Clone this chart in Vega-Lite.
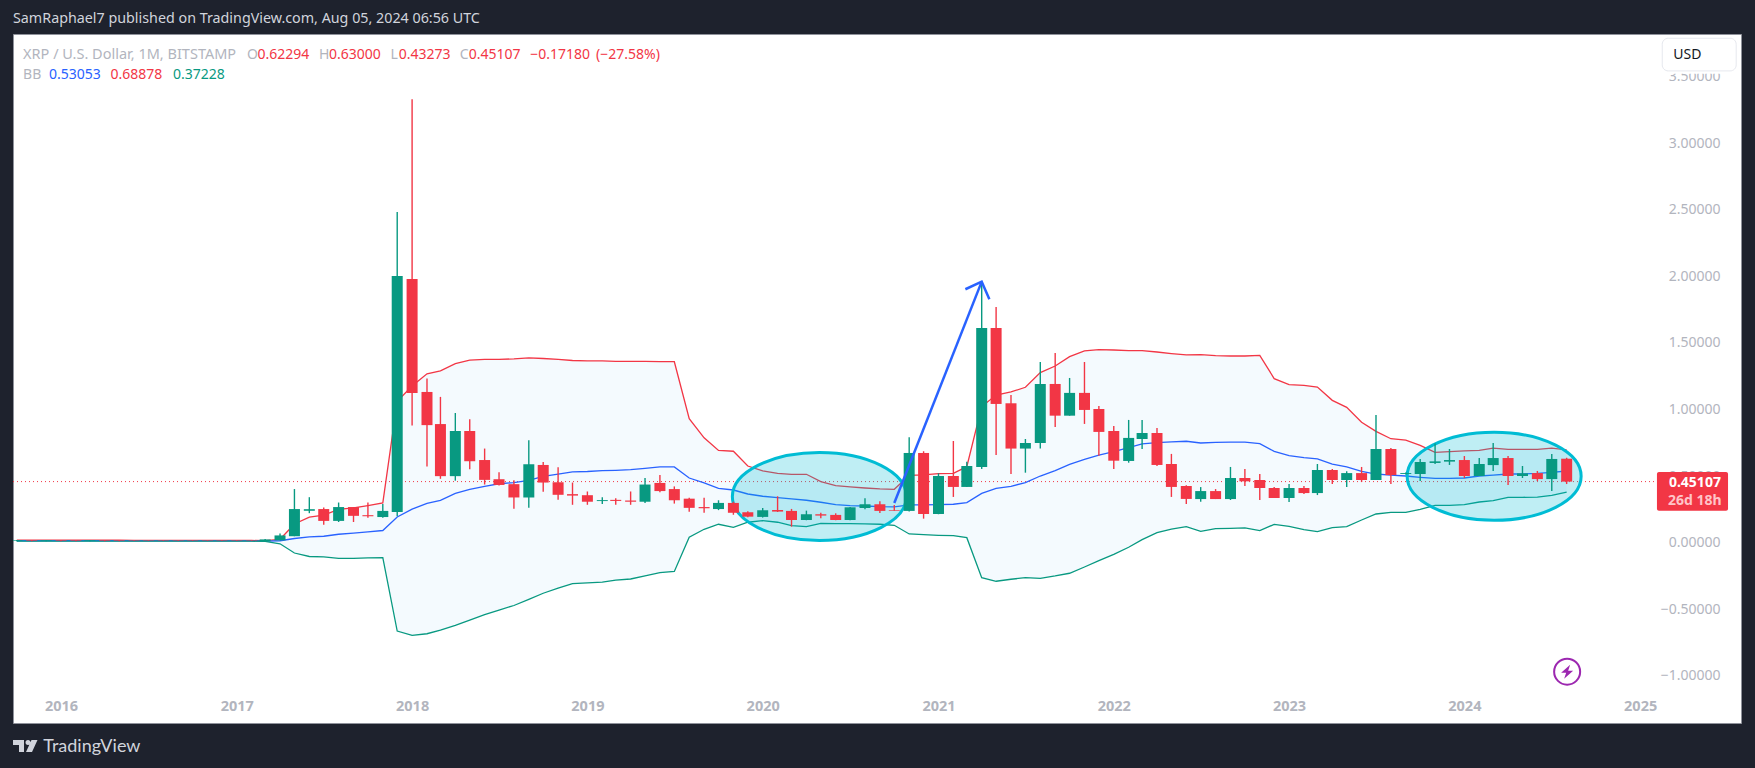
{"$schema":"https://vega.github.io/schema/vega-lite/v6.json","width":1728,"height":689,"autosize":"none","padding":{"left":13,"top":34,"right":14,"bottom":45},"background":"#1e222d","config":{"view":{"fill":"#ffffff","stroke":"#8f929b","strokeWidth":1},"font":"Noto Sans"},"title":{"text":"SamRaphael7 published on TradingView.com, Aug 05, 2024 06:56 UTC","anchor":"start","frame":"group","offset":8,"fontSize":14.3,"fontWeight":"normal","font":"Noto Sans","color":"#d1d4dc"},"datasets":{"bars":[
{"d":"2015-10-01","o":0.005,"h":0.012,"l":0.004,"c":0.010,"u":0.012,"m":0.007,"b":0.004},
{"d":"2015-11-01","o":0.010,"h":0.012,"l":0.004,"c":0.005,"u":0.012,"m":0.007,"b":0.004},
{"d":"2015-12-01","o":0.005,"h":0.012,"l":0.004,"c":0.010,"u":0.012,"m":0.007,"b":0.004},
{"d":"2016-01-01","o":0.010,"h":0.012,"l":0.004,"c":0.005,"u":0.012,"m":0.007,"b":0.004},
{"d":"2016-02-01","o":0.010,"h":0.012,"l":0.004,"c":0.005,"u":0.012,"m":0.007,"b":0.004},
{"d":"2016-03-01","o":0.005,"h":0.012,"l":0.004,"c":0.010,"u":0.012,"m":0.007,"b":0.004},
{"d":"2016-04-01","o":0.010,"h":0.012,"l":0.004,"c":0.005,"u":0.012,"m":0.007,"b":0.004},
{"d":"2016-05-01","o":0.010,"h":0.012,"l":0.004,"c":0.005,"u":0.011,"m":0.007,"b":0.004},
{"d":"2016-06-01","o":0.009,"h":0.010,"l":0.005,"c":0.006,"u":0.009,"m":0.006,"b":0.004},
{"d":"2016-07-01","o":0.009,"h":0.010,"l":0.005,"c":0.006,"u":0.009,"m":0.006,"b":0.004},
{"d":"2016-08-01","o":0.009,"h":0.010,"l":0.005,"c":0.006,"u":0.009,"m":0.006,"b":0.004},
{"d":"2016-09-01","o":0.009,"h":0.010,"l":0.005,"c":0.006,"u":0.009,"m":0.006,"b":0.004},
{"d":"2016-10-01","o":0.009,"h":0.010,"l":0.005,"c":0.006,"u":0.009,"m":0.006,"b":0.004},
{"d":"2016-11-01","o":0.009,"h":0.010,"l":0.005,"c":0.006,"u":0.009,"m":0.006,"b":0.004},
{"d":"2016-12-01","o":0.009,"h":0.010,"l":0.005,"c":0.006,"u":0.009,"m":0.006,"b":0.004},
{"d":"2017-01-01","o":0.009,"h":0.010,"l":0.005,"c":0.006,"u":0.009,"m":0.006,"b":0.004},
{"d":"2017-02-01","o":0.009,"h":0.010,"l":0.005,"c":0.006,"u":0.009,"m":0.006,"b":0.004},
{"d":"2017-03-01","o":0.003,"h":0.020,"l":0.003,"c":0.017,"u":0.008,"m":0.005,"b":0.002},
{"d":"2017-04-01","o":0.010,"h":0.061,"l":0.010,"c":0.047,"u":0.018,"m":0.007,"b":-0.016},
{"d":"2017-05-01","o":0.041,"h":0.395,"l":0.041,"c":0.245,"u":0.133,"m":0.024,"b":-0.085},
{"d":"2017-06-01","o":0.232,"h":0.334,"l":0.214,"c":0.244,"u":0.185,"m":0.036,"b":-0.111},
{"d":"2017-07-01","o":0.245,"h":0.257,"l":0.127,"c":0.156,"u":0.199,"m":0.041,"b":-0.114},
{"d":"2017-08-01","o":0.156,"h":0.294,"l":0.148,"c":0.260,"u":0.242,"m":0.056,"b":-0.125},
{"d":"2017-09-01","o":0.260,"h":0.260,"l":0.148,"c":0.194,"u":0.254,"m":0.064,"b":-0.125},
{"d":"2017-10-01","o":0.199,"h":0.294,"l":0.179,"c":0.191,"u":0.271,"m":0.073,"b":-0.122},
{"d":"2017-11-01","o":0.185,"h":0.283,"l":0.179,"c":0.231,"u":0.291,"m":0.084,"b":-0.120},
{"d":"2017-12-01","o":0.222,"h":2.475,"l":0.191,"c":1.995,"u":1.053,"m":0.185,"b":-0.671},
{"d":"2018-01-01","o":1.972,"h":3.322,"l":0.872,"c":1.116,"u":1.168,"m":0.245,"b":-0.703},
{"d":"2018-02-01","o":1.124,"h":1.225,"l":0.564,"c":0.875,"u":1.260,"m":0.288,"b":-0.691},
{"d":"2018-03-01","o":0.883,"h":1.087,"l":0.472,"c":0.492,"u":1.283,"m":0.311,"b":-0.663},
{"d":"2018-04-01","o":0.492,"h":0.966,"l":0.458,"c":0.831,"u":1.337,"m":0.363,"b":-0.628},
{"d":"2018-05-01","o":0.831,"h":0.920,"l":0.544,"c":0.604,"u":1.363,"m":0.392,"b":-0.588},
{"d":"2018-06-01","o":0.613,"h":0.699,"l":0.429,"c":0.464,"u":1.369,"m":0.415,"b":-0.548},
{"d":"2018-07-01","o":0.469,"h":0.521,"l":0.421,"c":0.426,"u":1.369,"m":0.435,"b":-0.513},
{"d":"2018-08-01","o":0.432,"h":0.461,"l":0.248,"c":0.332,"u":1.372,"m":0.444,"b":-0.479},
{"d":"2018-09-01","o":0.332,"h":0.762,"l":0.254,"c":0.582,"u":1.380,"m":0.461,"b":-0.433},
{"d":"2018-10-01","o":0.576,"h":0.599,"l":0.375,"c":0.444,"u":1.375,"m":0.490,"b":-0.387},
{"d":"2018-11-01","o":0.446,"h":0.558,"l":0.314,"c":0.352,"u":1.369,"m":0.507,"b":-0.349},
{"d":"2018-12-01","o":0.357,"h":0.444,"l":0.277,"c":0.346,"u":1.360,"m":0.524,"b":-0.315},
{"d":"2019-01-01","o":0.349,"h":0.377,"l":0.277,"c":0.300,"u":1.357,"m":0.527,"b":-0.309},
{"d":"2019-02-01","o":0.305,"h":0.334,"l":0.283,"c":0.312,"u":1.357,"m":0.533,"b":-0.303},
{"d":"2019-03-01","o":0.314,"h":0.326,"l":0.277,"c":0.306,"u":1.354,"m":0.536,"b":-0.289},
{"d":"2019-04-01","o":0.309,"h":0.377,"l":0.277,"c":0.300,"u":1.354,"m":0.541,"b":-0.280},
{"d":"2019-05-01","o":0.300,"h":0.478,"l":0.291,"c":0.429,"u":1.353,"m":0.550,"b":-0.257},
{"d":"2019-06-01","o":0.441,"h":0.501,"l":0.372,"c":0.380,"u":1.351,"m":0.561,"b":-0.232},
{"d":"2019-07-01","o":0.395,"h":0.415,"l":0.286,"c":0.311,"u":1.351,"m":0.561,"b":-0.223},
{"d":"2019-08-01","o":0.323,"h":0.329,"l":0.225,"c":0.254,"u":0.923,"m":0.478,"b":0.033},
{"d":"2019-09-01","o":0.260,"h":0.329,"l":0.217,"c":0.251,"u":0.780,"m":0.441,"b":0.093},
{"d":"2019-10-01","o":0.245,"h":0.311,"l":0.237,"c":0.291,"u":0.685,"m":0.401,"b":0.131},
{"d":"2019-11-01","o":0.291,"h":0.300,"l":0.202,"c":0.217,"u":0.679,"m":0.388,"b":0.108},
{"d":"2019-12-01","o":0.221,"h":0.228,"l":0.183,"c":0.188,"u":0.568,"m":0.358,"b":0.146},
{"d":"2020-01-01","o":0.186,"h":0.253,"l":0.181,"c":0.236,"u":0.531,"m":0.341,"b":0.158},
{"d":"2020-02-01","o":0.238,"h":0.341,"l":0.223,"c":0.226,"u":0.513,"m":0.331,"b":0.146},
{"d":"2020-03-01","o":0.231,"h":0.246,"l":0.113,"c":0.163,"u":0.506,"m":0.321,"b":0.121},
{"d":"2020-04-01","o":0.163,"h":0.233,"l":0.161,"c":0.206,"u":0.506,"m":0.311,"b":0.113},
{"d":"2020-05-01","o":0.206,"h":0.218,"l":0.176,"c":0.196,"u":0.451,"m":0.296,"b":0.138},
{"d":"2020-06-01","o":0.201,"h":0.213,"l":0.161,"c":0.163,"u":0.421,"m":0.278,"b":0.136},
{"d":"2020-07-01","o":0.163,"h":0.261,"l":0.161,"c":0.258,"u":0.411,"m":0.271,"b":0.136},
{"d":"2020-08-01","o":0.253,"h":0.326,"l":0.243,"c":0.281,"u":0.403,"m":0.268,"b":0.133},
{"d":"2020-09-01","o":0.281,"h":0.303,"l":0.216,"c":0.231,"u":0.396,"m":0.263,"b":0.131},
{"d":"2020-10-01","o":0.238,"h":0.276,"l":0.233,"c":0.233,"u":0.393,"m":0.261,"b":0.123},
{"d":"2020-11-01","o":0.231,"h":0.784,"l":0.226,"c":0.666,"u":0.498,"m":0.276,"b":0.058},
{"d":"2020-12-01","o":0.666,"h":0.679,"l":0.173,"c":0.208,"u":0.501,"m":0.276,"b":0.053},
{"d":"2021-01-01","o":0.208,"h":0.513,"l":0.206,"c":0.493,"u":0.511,"m":0.278,"b":0.048},
{"d":"2021-02-01","o":0.493,"h":0.756,"l":0.336,"c":0.411,"u":0.513,"m":0.281,"b":0.045},
{"d":"2021-03-01","o":0.411,"h":0.601,"l":0.411,"c":0.568,"u":0.563,"m":0.293,"b":0.030},
{"d":"2021-04-01","o":0.561,"h":1.950,"l":0.546,"c":1.604,"u":1.014,"m":0.363,"b":-0.270},
{"d":"2021-05-01","o":1.604,"h":1.762,"l":0.651,"c":1.034,"u":1.101,"m":0.401,"b":-0.297},
{"d":"2021-06-01","o":1.039,"h":1.101,"l":0.508,"c":0.699,"u":1.124,"m":0.416,"b":-0.282},
{"d":"2021-07-01","o":0.699,"h":0.771,"l":0.518,"c":0.741,"u":1.159,"m":0.443,"b":-0.270},
{"d":"2021-08-01","o":0.741,"h":1.349,"l":0.699,"c":1.184,"u":1.269,"m":0.493,"b":-0.275},
{"d":"2021-09-01","o":1.184,"h":1.417,"l":0.861,"c":0.946,"u":1.319,"m":0.533,"b":-0.257},
{"d":"2021-10-01","o":0.946,"h":1.229,"l":0.946,"c":1.117,"u":1.389,"m":0.581,"b":-0.237},
{"d":"2021-11-01","o":1.117,"h":1.349,"l":0.884,"c":0.989,"u":1.432,"m":0.618,"b":-0.190},
{"d":"2021-12-01","o":0.996,"h":1.019,"l":0.646,"c":0.824,"u":1.442,"m":0.649,"b":-0.142},
{"d":"2022-01-01","o":0.831,"h":0.869,"l":0.546,"c":0.608,"u":1.439,"m":0.676,"b":-0.095},
{"d":"2022-02-01","o":0.606,"h":0.914,"l":0.593,"c":0.779,"u":1.434,"m":0.706,"b":-0.042},
{"d":"2022-03-01","o":0.771,"h":0.914,"l":0.696,"c":0.816,"u":1.434,"m":0.734,"b":0.015},
{"d":"2022-04-01","o":0.816,"h":0.854,"l":0.569,"c":0.576,"u":1.424,"m":0.744,"b":0.068},
{"d":"2022-05-01","o":0.583,"h":0.659,"l":0.336,"c":0.411,"u":1.412,"m":0.749,"b":0.095},
{"d":"2022-06-01","o":0.418,"h":0.423,"l":0.283,"c":0.321,"u":1.402,"m":0.754,"b":0.113},
{"d":"2022-07-01","o":0.320,"h":0.410,"l":0.300,"c":0.380,"u":1.404,"m":0.741,"b":0.078},
{"d":"2022-08-01","o":0.380,"h":0.395,"l":0.320,"c":0.320,"u":1.396,"m":0.746,"b":0.098},
{"d":"2022-09-01","o":0.320,"h":0.561,"l":0.313,"c":0.478,"u":1.394,"m":0.748,"b":0.100},
{"d":"2022-10-01","o":0.478,"h":0.546,"l":0.418,"c":0.453,"u":1.394,"m":0.748,"b":0.103},
{"d":"2022-11-01","o":0.463,"h":0.508,"l":0.313,"c":0.403,"u":1.399,"m":0.736,"b":0.083},
{"d":"2022-12-01","o":0.403,"h":0.410,"l":0.328,"c":0.328,"u":1.224,"m":0.678,"b":0.130},
{"d":"2023-01-01","o":0.328,"h":0.433,"l":0.298,"c":0.403,"u":1.179,"m":0.646,"b":0.115},
{"d":"2023-02-01","o":0.403,"h":0.418,"l":0.358,"c":0.365,"u":1.174,"m":0.631,"b":0.090},
{"d":"2023-03-01","o":0.365,"h":0.583,"l":0.350,"c":0.538,"u":1.161,"m":0.621,"b":0.075},
{"d":"2023-04-01","o":0.538,"h":0.546,"l":0.433,"c":0.463,"u":1.061,"m":0.583,"b":0.105},
{"d":"2023-05-01","o":0.463,"h":0.528,"l":0.410,"c":0.515,"u":1.008,"m":0.561,"b":0.113},
{"d":"2023-06-01","o":0.515,"h":0.561,"l":0.448,"c":0.463,"u":0.896,"m":0.528,"b":0.163},
{"d":"2023-07-01","o":0.463,"h":0.951,"l":0.463,"c":0.696,"u":0.828,"m":0.508,"b":0.208},
{"d":"2023-08-01","o":0.696,"h":0.703,"l":0.433,"c":0.500,"u":0.773,"m":0.500,"b":0.220},
{"d":"2023-09-01","o":0.508,"h":0.520,"l":0.505,"c":0.515,"u":0.763,"m":0.493,"b":0.220},
{"d":"2023-10-01","o":0.508,"h":0.621,"l":0.455,"c":0.598,"u":0.723,"m":0.483,"b":0.243},
{"d":"2023-11-01","o":0.591,"h":0.738,"l":0.583,"c":0.603,"u":0.671,"m":0.475,"b":0.273},
{"d":"2023-12-01","o":0.601,"h":0.696,"l":0.576,"c":0.613,"u":0.676,"m":0.475,"b":0.273},
{"d":"2024-01-01","o":0.613,"h":0.643,"l":0.478,"c":0.493,"u":0.681,"m":0.478,"b":0.278},
{"d":"2024-02-01","o":0.493,"h":0.628,"l":0.493,"c":0.583,"u":0.686,"m":0.493,"b":0.298},
{"d":"2024-03-01","o":0.575,"h":0.741,"l":0.531,"c":0.628,"u":0.703,"m":0.500,"b":0.308},
{"d":"2024-04-01","o":0.628,"h":0.643,"l":0.425,"c":0.493,"u":0.693,"m":0.508,"b":0.333},
{"d":"2024-05-01","o":0.493,"h":0.568,"l":0.478,"c":0.513,"u":0.693,"m":0.508,"b":0.333},
{"d":"2024-06-01","o":0.515,"h":0.531,"l":0.455,"c":0.470,"u":0.693,"m":0.513,"b":0.335},
{"d":"2024-07-01","o":0.470,"h":0.658,"l":0.380,"c":0.621,"u":0.703,"m":0.521,"b":0.348},
{"d":"2024-08-01","o":0.62294,"h":0.63,"l":0.43273,"c":0.45107,"u":0.68878,"m":0.53053,"b":0.37228}
],"legend":[
{"d":"2017-01-22","p":3.657,"t":"O","r":"label"},
{"d":"2017-02-13","p":3.657,"t":"0.62294","r":"red"},
{"d":"2017-06-21","p":3.657,"t":"H","r":"label"},
{"d":"2017-07-12","p":3.657,"t":"0.63000","r":"red"},
{"d":"2017-11-17","p":3.657,"t":"L","r":"label"},
{"d":"2017-12-04","p":3.657,"t":"0.43273","r":"red"},
{"d":"2018-04-10","p":3.657,"t":"C","r":"label"},
{"d":"2018-04-29","p":3.657,"t":"0.45107","r":"red"},
{"d":"2018-09-04","p":3.657,"t":"−0.17180","r":"red"},
{"d":"2019-01-19","p":3.657,"t":"(−27.58%)","r":"red"},
{"d":"2015-10-14","p":3.5,"t":"BB","r":"label"},
{"d":"2015-12-07","p":3.5,"t":"0.53053","r":"blue"},
{"d":"2016-04-13","p":3.5,"t":"0.68878","r":"red"},
{"d":"2016-08-21","p":3.5,"t":"0.37228","r":"green"}
]},"layer":[
{"data":{"name":"bars"},"mark":{"type":"area","color":"#2196f3","opacity":0.05,"clip":true},"encoding":{"x":{"field":"d","type":"temporal","title":null,"scale":{"type":"utc","domain":["2015-09-23","2025-07-30"],"nice":false,"padding":0},"axis":{"orient":"bottom","domain":false,"ticks":false,"tickSize":0,"grid":false,"format":"%Y","formatType":"utc","tickCount":"year","labelBaseline":"middle","labelPadding":-17,"labelFont":"Noto Sans","labelFontSize":14.5,"labelFontWeight":"bold","labelColor":"#b2b5be","labelFlush":false,"labelOverlap":false,"labelBound":false}},"y":{"field":"b","type":"quantitative","title":null,"scale":{"domain":[-1.361,3.811],"nice":false,"zero":false},"axis":{"orient":"right","domain":false,"ticks":false,"tickSize":0,"grid":false,"values":[-1,-0.5,0,0.5,1,1.5,2,2.5,3,3.5],"format":".5f","labelAlign":"right","labelBaseline":"middle","labelPadding":-21,"labelOffset":1,"labelFont":"Noto Sans","labelFontSize":14,"labelColor":"#b2b5be","labelOverlap":false,"labelBound":false,"labelFlush":false}},"y2":{"field":"u"}}},
{"data":{"values":[{"d":"2015-09-23","d2":"2025-02-05","p":0.45107}]},"mark":{"type":"rule","color":"#f23645","strokeDash":[1,3],"strokeWidth":1},"encoding":{"x":{"field":"d","type":"temporal"},"x2":{"field":"d2"},"y":{"field":"p","type":"quantitative"}}},
{"data":{"name":"bars"},"mark":{"type":"line","color":"#f23645","strokeWidth":1.3,"clip":true},"encoding":{"x":{"field":"d","type":"temporal"},"y":{"field":"u","type":"quantitative"}}},
{"data":{"name":"bars"},"mark":{"type":"line","color":"#2962ff","strokeWidth":1.3,"clip":true},"encoding":{"x":{"field":"d","type":"temporal"},"y":{"field":"m","type":"quantitative"}}},
{"data":{"name":"bars"},"mark":{"type":"line","color":"#089981","strokeWidth":1.3,"clip":true},"encoding":{"x":{"field":"d","type":"temporal"},"y":{"field":"b","type":"quantitative"}}},
{"data":{"values":[{"d":"2020-04-28","p":0.339},{"d":"2024-03-03","p":0.491}]},"mark":{"type":"point","shape":"M-87,0 C-87,-24.3 -48,-44 0,-44 C48,-44 87,-24.3 87,0 C87,24.3 48,44 0,44 C-48,44 -87,24.3 -87,0 Z","size":4,"filled":true,"fill":"#00bcd4","fillOpacity":0.25,"stroke":"#00bcd4","strokeOpacity":1,"strokeWidth":3,"opacity":1},"encoding":{"x":{"field":"d","type":"temporal"},"y":{"field":"p","type":"quantitative"}}},
{"data":{"name":"bars"},"mark":{"type":"rule","strokeWidth":1.4,"clip":true},"encoding":{"x":{"field":"d","type":"temporal"},"y":{"field":"l","type":"quantitative"},"y2":{"field":"h"},"color":{"condition":{"test":"datum.c>=datum.o","value":"#089981"},"value":"#f23645"}}},
{"data":{"name":"bars"},"mark":{"type":"bar","size":11,"clip":true},"encoding":{"x":{"field":"d","type":"temporal"},"y":{"field":"o","type":"quantitative"},"y2":{"field":"c"},"color":{"condition":{"test":"datum.c>=datum.o","value":"#089981"},"value":"#f23645"}}},
{"data":{"values":[{"d":"2020-10-01","p":0.29,"s":"shaft","k":1},{"d":"2021-04-01","p":1.952,"s":"shaft","k":2},{"d":"2021-02-26","p":1.895,"s":"head","k":1},{"d":"2021-04-01","p":1.952,"s":"head","k":2},{"d":"2021-04-17","p":1.82,"s":"head","k":3}]},"mark":{"type":"line","color":"#2962ff","strokeWidth":2.5},"encoding":{"x":{"field":"d","type":"temporal"},"y":{"field":"p","type":"quantitative"},"detail":{"field":"s"},"order":{"field":"k"}}},
{"data":{"values":[{"d":"2015-10-14","p":3.657,"t":"XRP / U.S. Dollar, 1M, BITSTAMP"}]},"mark":{"type":"text","align":"left","baseline":"middle","fontSize":14.5,"font":"Noto Sans","color":"#b2b5be"},"encoding":{"x":{"field":"d","type":"temporal"},"y":{"field":"p","type":"quantitative"},"text":{"field":"t"}}},
{"data":{"name":"legend"},"mark":{"type":"text","align":"left","baseline":"middle","fontSize":14,"font":"Noto Sans"},"encoding":{"x":{"field":"d","type":"temporal"},"y":{"field":"p","type":"quantitative"},"text":{"field":"t"},"color":{"field":"r","type":"nominal","legend":null,"scale":{"domain":["label","red","blue","green"],"range":["#b2b5be","#f23645","#2962ff","#089981"]}}}},
{"data":{"values":[{"d":"2025-02-05","d2":"2025-07-03","p":0.523,"p2":0.233}]},"mark":{"type":"rect","color":"#f23645","cornerRadius":2},"encoding":{"x":{"field":"d","type":"temporal"},"x2":{"field":"d2"},"y":{"field":"p","type":"quantitative"},"y2":{"field":"p2"}}},
{"data":{"values":[{"d":"2025-04-25","p":0.443,"t":"0.45107"}]},"mark":{"type":"text","align":"center","baseline":"middle","fontSize":14,"fontWeight":"bold","color":"#ffffff","font":"Noto Sans"},"encoding":{"x":{"field":"d","type":"temporal"},"y":{"field":"p","type":"quantitative"},"text":{"field":"t"}}},
{"data":{"values":[{"d":"2025-04-25","p":0.308,"t":"26d 18h"}]},"mark":{"type":"text","align":"center","baseline":"middle","fontSize":14,"fontWeight":"bold","color":"#ffc4c8","font":"Noto Sans"},"encoding":{"x":{"field":"d","type":"temporal"},"y":{"field":"p","type":"quantitative"},"text":{"field":"t"}}},
{"data":{"values":[{"d":"2025-02-16","d2":"2025-07-20","p":3.58,"p2":3.512}]},"mark":{"type":"rect","fill":"#ffffff"},"encoding":{"x":{"field":"d","type":"temporal"},"x2":{"field":"d2"},"y":{"field":"p","type":"quantitative"},"y2":{"field":"p2"}}},
{"data":{"values":[{"d":"2025-02-16","d2":"2025-07-20","p":3.779,"p2":3.534}]},"mark":{"type":"rect","fill":"#ffffff","stroke":"#e6e8ee","strokeWidth":1,"cornerRadius":6},"encoding":{"x":{"field":"d","type":"temporal"},"x2":{"field":"d2"},"y":{"field":"p","type":"quantitative"},"y2":{"field":"p2"}}},
{"data":{"values":[{"d":"2025-03-11","p":3.656,"t":"USD"}]},"mark":{"type":"text","align":"left","baseline":"middle","fontSize":14,"color":"#131722","font":"Noto Sans"},"encoding":{"x":{"field":"d","type":"temporal"},"y":{"field":"p","type":"quantitative"},"text":{"field":"t"}}},
{"data":{"values":[{"d":"2024-08-02","p":-0.976}]},"mark":{"type":"point","shape":"circle","size":676,"filled":false,"stroke":"#9c27b0","strokeWidth":2,"opacity":1},"encoding":{"x":{"field":"d","type":"temporal"},"y":{"field":"p","type":"quantitative"}}},
{"data":{"values":[{"d":"2024-08-02","p":-0.976}]},"mark":{"type":"point","shape":"M3,-7 L-6,1 H-1 L-3,7 L6,-1 H1 Z","size":4,"filled":true,"fill":"#9c27b0","opacity":1},"encoding":{"x":{"field":"d","type":"temporal"},"y":{"field":"p","type":"quantitative"}}},
{"data":{"values":[{"d":"2015-10-18","p":-1.534}]},"mark":{"type":"point","shape":"M-12,-6 H-1 V6 H-6 V-1 H-12 Z M3,-6 C4.6,-6 5.5,-4.9 5.5,-3.5 C5.5,-2.1 4.6,-1 3,-1 C1.4,-1 0.5,-2.1 0.5,-3.5 C0.5,-4.9 1.4,-6 3,-6 Z M6.5,-6 H12.5 L7,6 H1 Z","size":4,"filled":true,"fill":"#d1d4dc","opacity":1},"encoding":{"x":{"field":"d","type":"temporal"},"y":{"field":"p","type":"quantitative"}}},
{"data":{"values":[{"d":"2015-11-25","p":-1.541,"t":"TradingView"}]},"mark":{"type":"text","align":"left","baseline":"middle","fontSize":18,"color":"#d1d4dc","font":"Lato"},"encoding":{"x":{"field":"d","type":"temporal"},"y":{"field":"p","type":"quantitative"},"text":{"field":"t"}}}
]}
